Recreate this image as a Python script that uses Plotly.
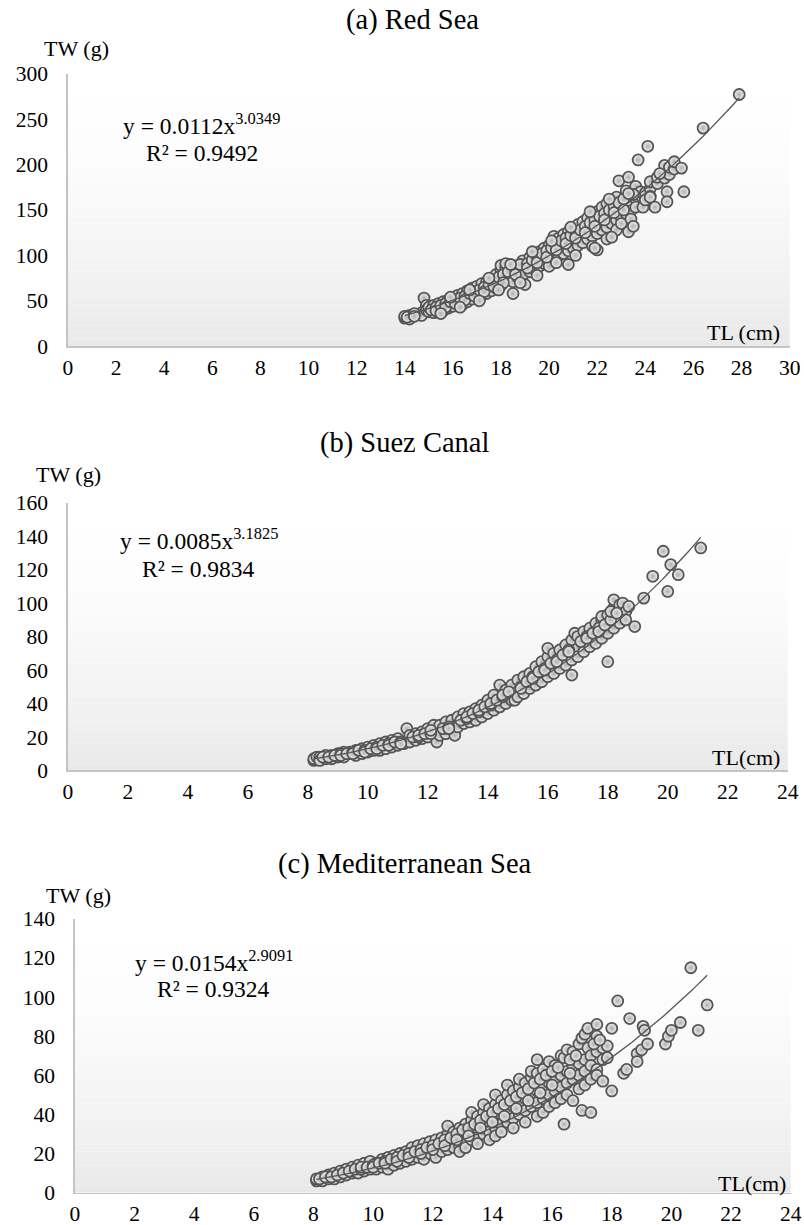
import plotly.graph_objects as go
import numpy as np

# ---------------- data ----------------
red_tl = [
 14.0, 14.0,
 14.2, 14.2,
 14.5,
 14.7, 14.7,
 14.8,
 14.9, 14.9,
 15.0, 15.0,
 15.2, 15.2, 15.2,
 15.4, 15.4,
 15.6, 15.6, 15.6,
 15.8, 15.8, 15.8,
 16.0, 16.0, 16.0,
 16.2, 16.2,
 16.4, 16.4, 16.4,
 16.6, 16.6, 16.6,
 16.8, 16.8, 16.8,
 17.0, 17.0, 17.0,
 17.2, 17.2, 17.2,
 17.4, 17.4, 17.4,
 17.6, 17.6, 17.6,
 17.8, 17.8, 17.8,
 18.0, 18.0, 18.0, 18.0,
 18.2, 18.2, 18.2,
 18.5, 18.5, 18.5, 18.5,
 18.7, 18.7, 18.7,
 18.9, 18.9, 18.9,
 19.0,
 19.2, 19.2, 19.2,
 19.4, 19.4, 19.4,
 19.6, 19.6, 19.6, 19.6,
 19.8, 19.8, 19.8,
 20.0, 20.0, 20.0, 20.0,
 20.2, 20.2, 20.2, 20.2,
 20.4, 20.4, 20.4,
 20.6, 20.6, 20.6,
 20.8, 20.8, 20.8, 20.8,
 21.0, 21.0, 21.0,
 21.2, 21.2, 21.2,
 21.4, 21.4, 21.4,
 21.6, 21.6, 21.6,
 21.8, 21.8, 21.8, 21.8,
 22.0, 22.0, 22.0, 22.0,
 22.2, 22.2, 22.2,
 22.4, 22.4, 22.4, 22.4,
 22.6, 22.6, 22.6,
 22.8, 22.8, 22.8, 22.8,
 22.9,
 23.0, 23.0, 23.0, 23.0,
 23.2, 23.2, 23.2,
 23.3, 23.3,
 23.4, 23.4, 23.4,
 23.6, 23.6, 23.6,
 23.7,
 23.8, 23.8,
 23.9,
 24.0, 24.0,
 24.1,
 24.2, 24.2, 24.2, 24.2,
 24.4,
 24.5, 24.5,
 24.8, 24.8, 24.8,
 24.9, 24.9,
 25.0, 25.0,
 25.2, 25.2,
 25.5,
 25.6,
 26.4,
 27.9,
 14.1, 14.4, 14.4, 15.1, 15.3, 15.3, 15.5, 15.7, 15.7, 15.9,
 16.1, 16.1, 16.3, 16.5, 16.5, 16.7, 16.9, 16.9, 17.1, 17.3,
 17.3, 17.5, 17.7, 17.7, 17.9, 18.1, 18.1, 18.3, 18.6, 18.6,
 18.8, 19.1, 19.1, 19.3, 19.5, 19.5, 19.7, 19.9, 19.9, 20.1,
 20.3, 20.3, 20.5, 20.7, 20.7, 20.9, 21.1, 21.1, 21.3, 21.5,
 21.5, 21.7, 21.9, 21.9, 22.1, 22.3, 22.3, 22.5, 22.7, 22.7,
 22.9, 23.1, 23.1, 23.5, 24.6,
 15.5, 16.3, 17.1, 17.9, 18.8, 19.5, 20.3, 21.1, 21.9, 22.6,
 23.5, 15.9, 16.7, 17.5, 18.4, 19.3, 20.1, 20.9, 21.7, 22.5,
 23.3,
]
red_tw = [
 31, 33,
 34, 30,
 35,
 37, 34,
 53,
 45, 40,
 38, 43,
 41, 45, 37,
 42, 47,
 44, 49, 39,
 46, 51, 42,
 48, 53, 44,
 50, 56,
 51, 58, 46,
 54, 61, 49,
 57, 64, 52,
 59, 66, 54,
 61, 69, 56,
 64, 71, 58,
 67, 75, 61,
 70, 79, 64,
 73, 83, 89, 67,
 75, 86, 91,
 78, 89, 71, 58,
 81, 87, 76,
 84, 94, 78,
 68,
 88, 98, 82,
 91, 101, 85,
 94, 104, 88, 97,
 97, 108, 91,
 101, 111, 94, 88,
 104, 115, 97, 121,
 107, 119, 100,
 110, 123, 102,
 113, 126, 105, 90,
 117, 129, 108,
 120, 134, 111,
 123, 137, 114,
 127, 141, 118,
 130, 144, 121, 110,
 134, 148, 124, 106,
 137, 153, 128,
 141, 157, 131, 118,
 144, 161, 135,
 148, 164, 139, 128,
 182,
 152, 159, 142, 135,
 155, 146, 171,
 186, 126,
 159, 149, 140,
 162, 153, 176,
 205,
 166, 170,
 153,
 169, 161,
 220,
 173, 165, 181, 164,
 153,
 179, 186,
 185, 193, 199,
 170, 159,
 189, 197,
 195, 203,
 196,
 170,
 240,
 277,
 32, 36, 33, 40, 43, 39, 45, 47, 43, 49,
 51, 47, 53, 55, 51, 58, 60, 55, 62, 65,
 60, 68, 72, 66, 76, 79, 70, 82, 85, 79,
 90, 91, 86, 95, 99, 92, 102, 105, 98, 108,
 112, 106, 116, 119, 113, 122, 126, 119, 128, 132,
 125, 136, 139, 132, 143, 146, 139, 150, 154, 147,
 158, 162, 150, 167, 190,
 36, 43, 50, 62, 70, 78, 92, 100, 108, 120,
 132, 54, 62, 75, 90, 104, 116, 131, 148, 162,
 168,
]

suez_tl = [
 8.2, 8.2,
 8.3,
 8.4, 8.4, 8.4,
 8.6, 8.6,
 8.8, 8.8, 8.8,
 9.0, 9.0, 9.0,
 9.2, 9.2, 9.2,
 9.4, 9.4,
 9.6, 9.6, 9.6,
 9.8, 9.8, 9.8,
 10.0, 10.0, 10.0,
 10.2, 10.2, 10.2,
 10.4, 10.4, 10.4,
 10.6, 10.6, 10.6,
 10.8, 10.8, 10.8,
 11.0, 11.0, 11.0,
 11.2, 11.2,
 11.3,
 11.4, 11.4, 11.4,
 11.6, 11.6, 11.6,
 11.8, 11.8, 11.8,
 12.0, 12.0, 12.0,
 12.2, 12.2,
 12.3,
 12.4, 12.4, 12.4,
 12.6, 12.6, 12.6,
 12.8, 12.8,
 12.9,
 13.0, 13.0, 13.0,
 13.2, 13.2, 13.2,
 13.4, 13.4, 13.4,
 13.6, 13.6, 13.6,
 13.8, 13.8, 13.8,
 14.0, 14.0, 14.0,
 14.2, 14.2, 14.2,
 14.4, 14.4, 14.4,
 14.6, 14.6, 14.6,
 14.8, 14.8, 14.8,
 14.9,
 15.0, 15.0, 15.0,
 15.2, 15.2, 15.2,
 15.4, 15.4, 15.4,
 15.6, 15.6, 15.6,
 15.8, 15.8, 15.8,
 16.0, 16.0, 16.0, 16.0,
 16.2, 16.2, 16.2,
 16.4, 16.4, 16.4,
 16.6, 16.6, 16.6,
 16.8, 16.8, 16.8, 16.8,
 16.9,
 17.0, 17.0, 17.0,
 17.2, 17.2, 17.2,
 17.4, 17.4, 17.4,
 17.6, 17.6, 17.6,
 17.8, 17.8, 17.8, 17.8,
 18.0, 18.0, 18.0, 18.0,
 18.2, 18.2, 18.2, 18.2,
 18.4, 18.4, 18.4,
 18.5,
 18.6, 18.6,
 18.9,
 19.2,
 19.5,
 19.85,
 20.0,
 20.1,
 20.35,
 21.1,
 8.5, 8.7, 8.9, 9.1, 9.1, 9.3, 9.5, 9.5, 9.7, 9.9,
 9.9, 10.1, 10.3, 10.3, 10.5, 10.7, 10.7, 10.9, 11.1, 11.1,
 11.5, 11.7, 11.7, 11.9, 12.1, 12.1, 12.5, 12.7, 12.7, 13.1,
 13.3, 13.3, 13.5, 13.7, 13.7, 13.9, 14.1, 14.1, 14.3, 14.5,
 14.5, 14.7, 15.1, 15.1, 15.3, 15.5, 15.5, 15.7, 15.9, 15.9,
 16.1, 16.3, 16.3, 16.5, 16.7, 16.7, 17.1, 17.3, 17.3, 17.5,
 17.7, 17.7, 17.9, 18.1, 18.1, 18.3, 18.7,
]
suez_tw = [
 6, 7,
 8,
 7, 8, 6,
 7, 9,
 8, 9, 7,
 8, 10, 9,
 9, 11, 8,
 10, 11,
 10, 12, 9,
 11, 13, 10,
 12, 14, 11,
 13, 15, 12,
 14, 16, 12,
 14, 17, 13,
 15, 18, 14,
 16, 19, 15,
 17, 16,
 25,
 18, 21, 17,
 19, 22, 18,
 20, 23, 19,
 21, 25, 20,
 22, 27,
 17,
 23, 27, 21,
 24, 29, 22,
 26, 30,
 21,
 28, 32, 26,
 29, 34, 28,
 31, 35, 29,
 33, 37, 30,
 35, 39, 32,
 37, 42, 34,
 39, 45, 36,
 41, 38, 51,
 43, 48, 40,
 45, 51, 42,
 42,
 47, 54, 44,
 50, 56, 46,
 52, 58, 49,
 55, 62, 51,
 57, 65, 53,
 60, 68, 56, 73,
 62, 70, 58,
 65, 72, 61,
 68, 75, 63,
 70, 78, 66, 57,
 82,
 73, 80, 68,
 76, 83, 71,
 78, 85, 74,
 81, 88, 76,
 84, 90, 79, 92,
 86, 93, 82, 65,
 89, 97, 102, 85,
 92, 99, 88,
 100,
 95, 90,
 86,
 103,
 116,
 131,
 107,
 123,
 117,
 133,
 8, 8, 9, 10, 9, 10, 11, 10, 12, 12,
 11, 13, 14, 13, 15, 16, 15, 17, 17, 16,
 20, 20, 21, 22, 22, 24, 25, 26, 25, 30,
 31, 32, 34, 35, 36, 38, 39, 40, 42, 44,
 45, 47, 50, 49, 53, 56, 55, 59, 61, 60,
 64, 66, 65, 69, 72, 71, 77, 80, 79, 82,
 85, 83, 87, 90, 95, 94, 98,
]

med_tl = [
 8.1, 8.1,
 8.3, 8.3, 8.3,
 8.5, 8.5, 8.5,
 8.7, 8.7, 8.7,
 8.9, 8.9, 8.9,
 9.1, 9.1, 9.1,
 9.3, 9.3, 9.3,
 9.5, 9.5, 9.5,
 9.7, 9.7, 9.7,
 9.9, 9.9, 9.9,
 10.1, 10.1, 10.1,
 10.3, 10.3, 10.3,
 10.5, 10.5, 10.5, 10.5,
 10.7, 10.7, 10.7,
 10.9, 10.9, 10.9,
 11.1, 11.1, 11.1,
 11.3, 11.3, 11.3,
 11.5, 11.5, 11.5,
 11.7, 11.7, 11.7, 11.7,
 11.9, 11.9, 11.9,
 12.1, 12.1, 12.1, 12.1,
 12.3, 12.3, 12.3,
 12.5, 12.5, 12.5, 12.5,
 12.7, 12.7, 12.7,
 12.9, 12.9, 12.9, 12.9,
 13.1, 13.1, 13.1, 13.1,
 13.3, 13.3, 13.3, 13.3,
 13.5, 13.5, 13.5, 13.5,
 13.7, 13.7, 13.7, 13.7,
 13.9, 13.9, 13.9, 13.9,
 14.1, 14.1, 14.1, 14.1, 14.1,
 14.3, 14.3, 14.3, 14.3,
 14.5, 14.5, 14.5, 14.5,
 14.7, 14.7, 14.7, 14.7,
 14.9, 14.9, 14.9, 14.9,
 15.1, 15.1, 15.1, 15.1,
 15.3, 15.3, 15.3, 15.3,
 15.5, 15.5, 15.5, 15.5, 15.5,
 15.7, 15.7, 15.7, 15.7,
 15.9, 15.9, 15.9, 15.9,
 16.1, 16.1, 16.1, 16.1,
 16.3, 16.3, 16.3, 16.3,
 16.4, 16.4,
 16.5, 16.5, 16.5, 16.5,
 16.7, 16.7, 16.7, 16.7,
 16.9, 16.9, 16.9, 16.9,
 17.0, 17.0,
 17.1, 17.1, 17.1, 17.1,
 17.2, 17.2,
 17.3, 17.3, 17.3, 17.3,
 17.5, 17.5, 17.5, 17.5, 17.5,
 17.7, 17.7, 17.7,
 17.85, 17.85,
 18.0, 18.0,
 18.2,
 18.4,
 18.5,
 18.6,
 18.85, 18.85,
 19.0,
 19.05,
 19.1,
 19.2,
 19.8,
 19.9,
 20.0,
 20.3,
 20.65,
 20.9,
 21.2,
 8.2, 8.4, 8.6, 8.8, 9.0, 9.2, 9.4, 9.6, 9.6, 9.8,
 10.0, 10.0, 10.2, 10.4, 10.4, 10.6, 10.8, 10.8, 11.0, 11.2,
 11.2, 11.4, 11.6, 11.6, 11.8, 12.0, 12.0, 12.2, 12.4, 12.4,
 12.6, 12.8, 12.8, 13.0, 13.2, 13.2, 13.4, 13.6, 13.6, 13.8,
 14.0, 14.0, 14.2, 14.4, 14.4, 14.6, 14.8, 14.8, 15.0, 15.2,
 15.2, 15.4, 15.6, 15.6, 15.8, 16.0, 16.0, 16.2, 16.6, 16.6,
 16.8, 17.4, 17.6,
]
med_tw = [
 6, 7,
 7, 6, 8,
 7, 9, 8,
 8, 10, 7,
 9, 11, 8,
 10, 12, 9,
 10, 13, 11,
 11, 14, 10,
 12, 15, 11,
 13, 16, 12,
 13, 15, 12,
 14, 17, 13,
 15, 18, 14, 12,
 16, 19, 14,
 17, 20, 15,
 18, 21, 16,
 19, 23, 17,
 20, 24, 18,
 21, 25, 19, 17,
 22, 26, 20,
 23, 27, 20, 18,
 24, 28, 21,
 25, 30, 22, 34,
 27, 31, 23,
 28, 33, 24, 21,
 30, 35, 26, 23,
 31, 37, 27, 41,
 33, 39, 28, 25,
 35, 41, 30, 45,
 36, 43, 31, 27,
 38, 45, 33, 50, 29,
 40, 47, 35, 31,
 42, 50, 36, 55,
 44, 52, 38, 33,
 46, 54, 40, 58,
 48, 56, 42, 36,
 50, 59, 44, 62,
 52, 61, 46, 68, 39,
 54, 63, 48, 41,
 56, 67, 50, 44,
 58, 65, 52, 46,
 60, 70, 54, 48,
 69, 35,
 62, 73, 56, 50,
 64, 72, 58, 47,
 66, 76, 60, 53,
 79, 42,
 68, 81, 62, 55,
 84, 74,
 70, 65, 41, 58,
 86, 72, 80, 63, 60,
 74, 68, 57,
 75, 69,
 84, 52,
 98,
 61,
 63,
 89,
 71, 67,
 73,
 85,
 83,
 76,
 76,
 80,
 83,
 87,
 115,
 83,
 96,
 7, 8, 8, 9, 10, 11, 12, 12, 13, 13,
 14, 13, 15, 16, 15, 17, 18, 16, 19, 20,
 18, 21, 22, 20, 23, 24, 22, 25, 27, 24,
 28, 30, 27, 32, 33, 29, 35, 37, 33, 39,
 41, 36, 43, 45, 39, 47, 49, 43, 51, 53,
 47, 56, 58, 51, 60, 62, 55, 64, 68, 61,
 70, 76, 78,
]

# power-law fits printed on the chart: y = a * x^b
fit_a = [0.0112, 0.0085, 0.0154]
fit_b = [3.0349, 3.1825, 2.9091]
fit_r2 = ["0.9492", "0.9834", "0.9324"]
fit_xrange = [[14.0, 27.9], [8.2, 21.1], [8.1, 21.2]]

titles = ["(a) Red Sea", "(b) Suez Canal", "(c) Mediterranean Sea"]
x_labels = ["TL (cm)", "TL(cm)", "TL(cm)"]
y_label = "TW (g)"
y_max = [300, 160, 140]
y_step = [50, 20, 20]
x_max = [30, 24, 24]

# ---------------- layout helpers ----------------
W, H = 816, 1240
FONT = "Liberation Serif"
# measured mapping from figure pixels to the photographed picture
SCX, SCY, OX, OY = 0.982, 0.978, 3.0, 12.6


def px(x):
    return ((x - OX) / SCX) / W


def py(y):
    return 1 - ((y - OY) / SCY) / H


# plot-area boxes in picture pixels: (left, right, top, bottom)
boxes = [(66, 789, 75, 347), (66, 787, 503, 770), (73, 790, 918, 1191)]

fig = go.Figure()
datasets = [(red_tl, red_tw), (suez_tl, suez_tw), (med_tl, med_tw)]
suffix = ["", "2", "3"]

for i, (xs, ys) in enumerate(datasets):
    xa = "x" + suffix[i]
    ya = "y" + suffix[i]
    fig.add_trace(go.Scatter(
        x=xs, y=ys, mode="markers", xaxis=xa, yaxis=ya, showlegend=False,
        marker=dict(size=11, color="#efefef",
                    gradient=dict(type="radial", color="#b0b0b0"),
                    line=dict(color="#555555", width=1.8)),
    ))
    xf = np.linspace(fit_xrange[i][0], fit_xrange[i][1], 120)
    yf = fit_a[i] * xf ** fit_b[i]
    fig.add_trace(go.Scatter(
        x=xf, y=yf, mode="lines", xaxis=xa, yaxis=ya, showlegend=False,
        line=dict(color="#555555", width=1.3),
    ))

layout = dict(
    width=W, height=H, margin=dict(l=0, r=0, t=0, b=0),
    paper_bgcolor="white", plot_bgcolor="white",
    showlegend=False,
)

shapes = []
annotations = []
N = 40
for i in range(3):
    l, r, t, b = boxes[i]
    xk = "xaxis" + suffix[i]
    yk = "yaxis" + suffix[i]
    layout[xk] = dict(
        domain=[px(l), px(r)], range=[0, x_max[i]], dtick=2, tick0=0,
        showgrid=False, zeroline=False, showline=True, linecolor="#c4c4c4",
        linewidth=1.5, ticks="outside", ticklen=1, tickcolor="rgba(0,0,0,0)",
        tickfont=dict(family=FONT, size=21.5, color="black"),
        ticklabeloverflow="allow",
        anchor="y" + suffix[i], fixedrange=True,
    )
    layout[yk] = dict(
        domain=[py(b), py(t)], range=[0, y_max[i]], dtick=y_step[i], tick0=0,
        showgrid=False, zeroline=False, showline=True, linecolor="#c4c4c4",
        linewidth=1.5, ticks="outside", ticklen=14, tickcolor="rgba(0,0,0,0)",
        tickfont=dict(family=FONT, size=21.5, color="black"),
        ticklabeloverflow="allow",
        anchor="x" + suffix[i], fixedrange=True,
    )
    # vertical grey gradient background of the plot area
    for k in range(N):
        tt = 1 - (k + 0.5) / N
        g = int(round(255 - 22 * tt ** 1.7))
        shapes.append(dict(
            type="rect", xref="x" + suffix[i] + " domain",
            yref="y" + suffix[i] + " domain",
            x0=0, x1=1, y0=k / N, y1=(k + 1) / N, layer="below",
            line=dict(width=0), fillcolor=f"rgb({g},{g},{g})",
        ))

# texts (picture pixel positions)
title_pos = [(411, 22), (403, 443), (404, 863)]
ylab_pos = [(75, 50), (67, 475), (77, 895)]
xlab_pos = [(781, 333), (781, 757), (787, 1182)]
eq_pos = [(200, 125, 154), (197, 539, 569), (212, 960, 988)]

for i in range(3):
    annotations.append(dict(
        text=titles[i], x=px(title_pos[i][0]), y=py(title_pos[i][1]),
        xref="paper", yref="paper", xanchor="center", yanchor="middle",
        showarrow=False, font=dict(family=FONT, size=28.5, color="black")))
    annotations.append(dict(
        text=y_label, x=px(ylab_pos[i][0]), y=py(ylab_pos[i][1]),
        xref="paper", yref="paper", xanchor="center", yanchor="middle",
        showarrow=False, font=dict(family=FONT, size=22, color="black")))
    annotations.append(dict(
        text=x_labels[i], x=px(xlab_pos[i][0]), y=py(xlab_pos[i][1]),
        xref="paper", yref="paper", xanchor="right", yanchor="middle",
        showarrow=False, font=dict(family=FONT, size=22, color="black")))
    annotations.append(dict(
        text=f"y = {fit_a[i]:.4f}x<sup>{fit_b[i]:.4f}</sup>",
        x=px(eq_pos[i][0]), y=py(eq_pos[i][1]),
        xref="paper", yref="paper", xanchor="center", yanchor="middle",
        showarrow=False, font=dict(family=FONT, size=23.5, color="black")))
    annotations.append(dict(
        text=f"R² = {fit_r2[i]}",
        x=px(eq_pos[i][0]), y=py(eq_pos[i][2]),
        xref="paper", yref="paper", xanchor="center", yanchor="middle",
        showarrow=False, font=dict(family=FONT, size=23.5, color="black")))

layout["shapes"] = shapes
layout["annotations"] = annotations
fig.update_layout(**layout)

# pin the figure to the page's top-left corner (no body margin / scrolling)
pin_js = (
    "document.documentElement.style.margin='0';"
    "document.body.style.margin='0';"
    "document.body.style.overflow='hidden';"
    "var d=document.getElementById('{plot_id}');"
    "d.style.position='fixed';d.style.left='0px';d.style.top='0px';"
)

fig.write_html("out.html", post_script=pin_js,
               config={"displayModeBar": False, "staticPlot": True})
